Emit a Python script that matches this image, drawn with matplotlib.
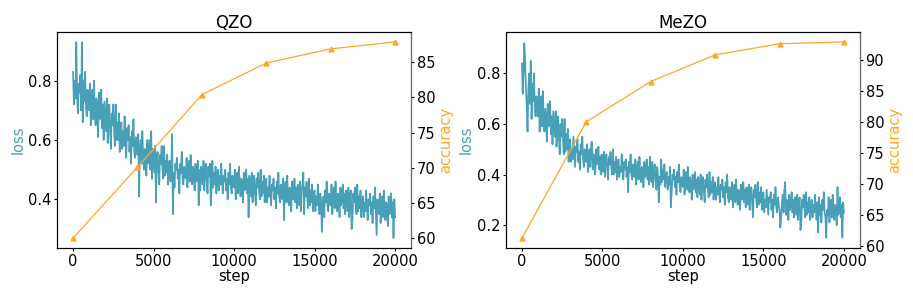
import matplotlib
matplotlib.use("Agg")
import matplotlib.pyplot as plt

# training steps for the loss curves (every 50 steps)
steps = list(range(0, 20001, 50))

# QZO loss, one row per 1000 steps
qzo_loss = [
    0.83, 0.72, 0.80, 0.74, 0.93, 0.75, 0.69, 0.79, 0.76, 0.82, 0.70, 0.93, 0.66, 0.80, 0.73, 0.83, 0.71, 0.68, 0.77, 0.71,
    0.70, 0.79, 0.65, 0.74, 0.77, 0.67, 0.80, 0.69, 0.65, 0.74, 0.70, 0.61, 0.76, 0.67, 0.71, 0.77, 0.64, 0.72, 0.60, 0.73,
    0.68, 0.63, 0.74, 0.59, 0.69, 0.72, 0.63, 0.57, 0.69, 0.65, 0.72, 0.63, 0.58, 0.72, 0.60, 0.66, 0.60, 0.69, 0.56, 0.63,
    0.66, 0.57, 0.63, 0.58, 0.68, 0.60, 0.54, 0.64, 0.60, 0.65, 0.56, 0.61, 0.52, 0.63, 0.58, 0.67, 0.56, 0.54, 0.61, 0.57,
    0.55, 0.62, 0.41, 0.57, 0.60, 0.52, 0.63, 0.55, 0.50, 0.57, 0.55, 0.48, 0.60, 0.52, 0.55, 0.60, 0.50, 0.63, 0.47, 0.57,
    0.53, 0.49, 0.58, 0.39, 0.54, 0.56, 0.50, 0.45, 0.55, 0.52, 0.58, 0.50, 0.47, 0.58, 0.48, 0.53, 0.49, 0.55, 0.45, 0.52,
    0.53, 0.46, 0.51, 0.62, 0.35, 0.49, 0.44, 0.52, 0.50, 0.54, 0.47, 0.50, 0.42, 0.52, 0.49, 0.56, 0.47, 0.45, 0.51, 0.48,
    0.47, 0.54, 0.44, 0.50, 0.53, 0.46, 0.55, 0.48, 0.45, 0.51, 0.49, 0.43, 0.52, 0.46, 0.49, 0.53, 0.38, 0.50, 0.43, 0.51,
    0.49, 0.45, 0.53, 0.43, 0.50, 0.52, 0.46, 0.42, 0.51, 0.48, 0.52, 0.38, 0.43, 0.53, 0.44, 0.49, 0.45, 0.51, 0.42, 0.48,
    0.50, 0.43, 0.48, 0.45, 0.52, 0.46, 0.42, 0.48, 0.46, 0.50, 0.43, 0.47, 0.40, 0.49, 0.45, 0.52, 0.44, 0.42, 0.48, 0.45,
    0.44, 0.50, 0.40, 0.46, 0.49, 0.42, 0.51, 0.44, 0.41, 0.47, 0.45, 0.39, 0.49, 0.43, 0.45, 0.50, 0.42, 0.47, 0.34, 0.48,
    0.45, 0.41, 0.49, 0.39, 0.46, 0.48, 0.42, 0.38, 0.47, 0.44, 0.49, 0.43, 0.40, 0.50, 0.41, 0.46, 0.42, 0.48, 0.39, 0.44,
    0.47, 0.39, 0.44, 0.41, 0.48, 0.42, 0.38, 0.45, 0.43, 0.47, 0.40, 0.44, 0.37, 0.46, 0.42, 0.49, 0.41, 0.39, 0.45, 0.42,
    0.40, 0.47, 0.33, 0.43, 0.46, 0.39, 0.48, 0.41, 0.38, 0.44, 0.42, 0.36, 0.46, 0.40, 0.42, 0.47, 0.39, 0.44, 0.37, 0.45,
    0.42, 0.38, 0.46, 0.36, 0.43, 0.45, 0.49, 0.35, 0.44, 0.41, 0.46, 0.40, 0.37, 0.47, 0.38, 0.43, 0.39, 0.45, 0.36, 0.42,
    0.43, 0.36, 0.41, 0.38, 0.45, 0.39, 0.35, 0.42, 0.40, 0.29, 0.37, 0.41, 0.34, 0.43, 0.39, 0.46, 0.38, 0.36, 0.42, 0.39,
    0.38, 0.45, 0.35, 0.41, 0.44, 0.37, 0.46, 0.39, 0.36, 0.42, 0.40, 0.34, 0.44, 0.38, 0.40, 0.45, 0.37, 0.42, 0.35, 0.43,
    0.40, 0.36, 0.44, 0.34, 0.41, 0.43, 0.30, 0.33, 0.42, 0.39, 0.44, 0.38, 0.35, 0.45, 0.36, 0.41, 0.37, 0.43, 0.34, 0.39,
    0.41, 0.34, 0.39, 0.36, 0.43, 0.37, 0.33, 0.40, 0.38, 0.42, 0.35, 0.39, 0.32, 0.41, 0.37, 0.44, 0.36, 0.28, 0.40, 0.37,
    0.35, 0.42, 0.32, 0.38, 0.41, 0.34, 0.43, 0.36, 0.33, 0.39, 0.37, 0.31, 0.41, 0.35, 0.37, 0.42, 0.34, 0.39, 0.27, 0.40,
    0.34,
]

# MeZO loss, one row per 1000 steps
mezo_loss = [
    0.84, 0.72, 0.80, 0.92, 0.85, 0.74, 0.67, 0.57, 0.74, 0.80, 0.68, 0.85, 0.62, 0.76, 0.69, 0.80, 0.66, 0.63, 0.71, 0.66,
    0.63, 0.74, 0.57, 0.67, 0.71, 0.59, 0.73, 0.62, 0.57, 0.66, 0.63, 0.53, 0.68, 0.59, 0.63, 0.69, 0.56, 0.63, 0.52, 0.65,
    0.60, 0.55, 0.65, 0.51, 0.60, 0.63, 0.54, 0.48, 0.60, 0.55, 0.62, 0.54, 0.48, 0.62, 0.49, 0.56, 0.50, 0.58, 0.45, 0.52,
    0.54, 0.45, 0.50, 0.46, 0.55, 0.49, 0.43, 0.51, 0.49, 0.54, 0.45, 0.49, 0.42, 0.52, 0.48, 0.55, 0.46, 0.43, 0.50, 0.47,
    0.45, 0.52, 0.41, 0.47, 0.50, 0.43, 0.52, 0.53, 0.42, 0.48, 0.46, 0.40, 0.50, 0.44, 0.46, 0.51, 0.42, 0.47, 0.40, 0.48,
    0.45, 0.41, 0.49, 0.39, 0.46, 0.48, 0.42, 0.38, 0.47, 0.44, 0.49, 0.43, 0.40, 0.50, 0.40, 0.45, 0.41, 0.47, 0.38, 0.44,
    0.46, 0.39, 0.43, 0.41, 0.48, 0.42, 0.38, 0.45, 0.42, 0.46, 0.39, 0.43, 0.33, 0.45, 0.41, 0.48, 0.40, 0.38, 0.44, 0.41,
    0.39, 0.46, 0.36, 0.42, 0.45, 0.38, 0.47, 0.40, 0.37, 0.43, 0.41, 0.35, 0.45, 0.39, 0.41, 0.46, 0.38, 0.43, 0.36, 0.47,
    0.41, 0.37, 0.45, 0.35, 0.42, 0.44, 0.38, 0.34, 0.43, 0.40, 0.29, 0.39, 0.36, 0.46, 0.37, 0.42, 0.38, 0.44, 0.35, 0.40,
    0.41, 0.34, 0.39, 0.36, 0.43, 0.27, 0.33, 0.40, 0.38, 0.42, 0.35, 0.39, 0.32, 0.41, 0.37, 0.44, 0.36, 0.33, 0.39, 0.36,
    0.35, 0.42, 0.32, 0.38, 0.41, 0.34, 0.43, 0.36, 0.33, 0.39, 0.36, 0.30, 0.40, 0.34, 0.36, 0.41, 0.33, 0.38, 0.31, 0.39,
    0.36, 0.32, 0.40, 0.30, 0.37, 0.39, 0.33, 0.29, 0.38, 0.35, 0.40, 0.34, 0.31, 0.41, 0.32, 0.37, 0.33, 0.39, 0.30, 0.35,
    0.37, 0.30, 0.35, 0.32, 0.39, 0.33, 0.29, 0.36, 0.34, 0.38, 0.31, 0.35, 0.28, 0.37, 0.33, 0.40, 0.31, 0.29, 0.35, 0.32,
    0.30, 0.37, 0.27, 0.33, 0.36, 0.29, 0.38, 0.31, 0.28, 0.34, 0.32, 0.26, 0.36, 0.30, 0.32, 0.37, 0.29, 0.34, 0.27, 0.35,
    0.32, 0.28, 0.36, 0.26, 0.33, 0.35, 0.29, 0.23, 0.34, 0.31, 0.36, 0.30, 0.27, 0.37, 0.28, 0.33, 0.29, 0.35, 0.26, 0.31,
    0.33, 0.25, 0.30, 0.27, 0.34, 0.29, 0.24, 0.31, 0.29, 0.33, 0.26, 0.30, 0.23, 0.32, 0.28, 0.35, 0.27, 0.25, 0.31, 0.28,
    0.26, 0.19, 0.23, 0.29, 0.32, 0.25, 0.34, 0.37, 0.24, 0.30, 0.28, 0.22, 0.32, 0.26, 0.28, 0.33, 0.25, 0.30, 0.23, 0.31,
    0.28, 0.24, 0.32, 0.22, 0.29, 0.31, 0.18, 0.21, 0.30, 0.27, 0.32, 0.26, 0.23, 0.33, 0.24, 0.29, 0.25, 0.31, 0.22, 0.28,
    0.30, 0.23, 0.28, 0.25, 0.32, 0.26, 0.22, 0.29, 0.17, 0.31, 0.24, 0.28, 0.21, 0.30, 0.26, 0.33, 0.25, 0.23, 0.15, 0.26,
    0.24, 0.31, 0.21, 0.27, 0.30, 0.23, 0.32, 0.25, 0.22, 0.28, 0.26, 0.20, 0.35, 0.24, 0.26, 0.31, 0.23, 0.28, 0.15, 0.29,
    0.25,
]

# accuracy evaluated every 4000 steps
acc_steps = [0, 4000, 8000, 12000, 16000, 20000]
qzo_acc = [60.0, 70.1, 80.4, 84.9, 86.9, 87.9]
mezo_acc = [61.2, 80.0, 86.5, 90.8, 92.6, 92.9]

loss_color = "#48a0b8"
acc_color = "#ffa726"

fig = plt.figure(figsize=(9.13, 2.97), dpi=100)
ax1 = fig.add_axes([0.0624, 0.165, 0.388, 0.727])
ax2 = fig.add_axes([0.554, 0.165, 0.388, 0.727])

panels = [
    (ax1, "QZO", qzo_loss, qzo_acc, (0.236, 0.964)),
    (ax2, "MeZO", mezo_loss, mezo_acc, (0.109, 0.964)),
]

for ax, name, loss, acc, ylim in panels:
    ax.plot(steps, loss, color=loss_color, linewidth=1.25)
    ax.set_ylim(*ylim)
    ax.set_xlabel("step", fontsize=10.5, labelpad=0)
    ax.set_ylabel("loss", color=loss_color, fontsize=10.5, labelpad=2)
    ax.set_title(name, fontsize=12, pad=3)
    ax.set_xticks([0, 5000, 10000, 15000, 20000])
    ax.tick_params(labelsize=10.5, length=2.5, pad=1.5)

    tw = ax.twinx()
    tw.plot(acc_steps, acc, color=acc_color, marker="^", markersize=3.5, linewidth=0.9)
    tw.set_ylabel("accuracy", color=acc_color, fontsize=10.5, labelpad=2)
    tw.tick_params(labelsize=10.5, length=2.5, pad=1.5)
    tw.spines["right"].set_color("#666666")

ax2.set_yticks([0.2, 0.4, 0.6, 0.8])

fig.savefig("out.png", dpi=100)
